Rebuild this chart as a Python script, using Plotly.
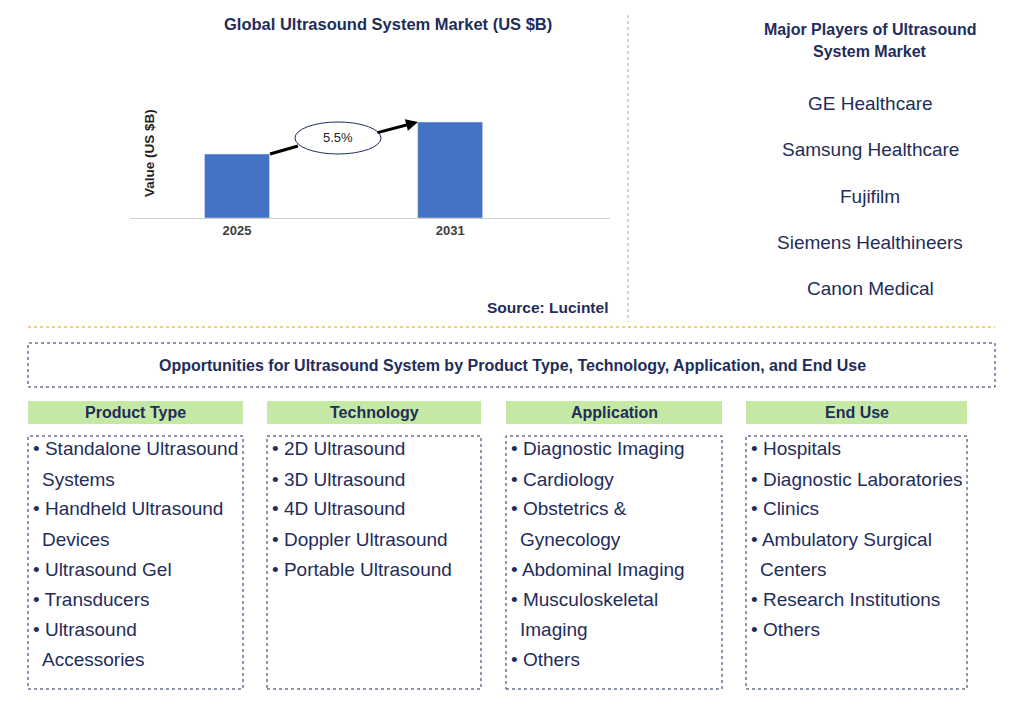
import plotly.graph_objects as go

years = ["2025", "2031"]
values = [2.0, 3.0]
cagr = "5.5%"
players = ["GE Healthcare", "Samsung Healthcare", "Fujifilm", "Siemens Healthineers", "Canon Medical"]
headers = ["Product Type", "Technology", "Application", "End Use"]
items = [
    [["Standalone Ultrasound", "Systems"], ["Handheld Ultrasound", "Devices"], ["Ultrasound Gel"], ["Transducers"], ["Ultrasound", "Accessories"]],
    [["2D Ultrasound"], ["3D Ultrasound"], ["4D Ultrasound"], ["Doppler Ultrasound"], ["Portable Ultrasound"]],
    [["Diagnostic Imaging"], ["Cardiology"], ["Obstetrics &", "Gynecology"], ["Abdominal Imaging"], ["Musculoskeletal", "Imaging"], ["Others"]],
    [["Hospitals"], ["Diagnostic Laboratories"], ["Clinics"], ["Ambulatory Surgical", "Centers"], ["Research Institutions"], ["Others"]],
]

W, H = 1024, 710
OFF = 8
px = lambda x: (x - OFF) / W
py = lambda y: 1 - (y - OFF) / H
NAVY = "#1f2d5a"
FONT = "Liberation Sans, Arial"

fig = go.Figure()
fig.add_trace(go.Bar(x=[0, 1], y=values, width=0.305, marker_color="#4472c4", hoverinfo="skip"))

fig.update_layout(
    width=W, height=H, margin=dict(l=0, r=0, t=0, b=0),
    paper_bgcolor="white", plot_bgcolor="white", showlegend=False,
    font=dict(family=FONT),
    xaxis=dict(domain=[px(130), px(610)], range=[-0.502, 1.75], tickvals=[0, 1],
               ticktext=["<b>%s</b>" % y for y in years],
               showgrid=False, zeroline=False, showline=True, linecolor="#d0d0d0",
               tickfont=dict(size=13, color="#404040", family=FONT), ticks=""),
    yaxis=dict(domain=[py(218), py(90)], range=[0, values[1] * 128 / 96], showticklabels=False,
               showgrid=False, zeroline=False, showline=False),
)

ann = []
shapes = []
def text(x, y, t, size=18, bold=False, color="#1f1f1f", xa="center", angle=0):
    ann.append(dict(x=px(x), y=py(y), xref="paper", yref="paper", text=f"<b>{t}</b>" if bold else t,
                    showarrow=False, xanchor=xa, yanchor="middle", textangle=angle,
                    font=dict(size=size, color=color, family=FONT)))

text(388, 24, "Global Ultrasound System Market (US $B)", 16.5, True, NAVY)
text(150, 153, "Value (US $B)", 13.5, True, "#1f1f1f", angle=-90)
text(547, 307, "Source: Lucintel", 15.5, True, NAVY)
text(870, 30, "Major Players of Ultrasound", 16, True, NAVY)
text(870, 51, "System Market", 16, True, NAVY)
for i, p in enumerate(players):
    text(870, 103 + i * 46.5, p, 19, False, NAVY)

# arrow in two parts around the ellipse
shapes.append(dict(type="line", xref="paper", yref="paper", x0=px(270), y0=py(154), x1=px(298), y1=py(146),
                   line=dict(color="black", width=3)))
ann.append(dict(x=px(418), y=py(122), ax=-42, ay=11, xref="paper", yref="paper", axref="pixel", ayref="pixel",
                showarrow=True, arrowhead=2, arrowsize=0.8, arrowwidth=3, arrowcolor="black", text=""))
shapes.append(dict(type="circle", xref="paper", yref="paper", x0=px(295), x1=px(381), y0=py(154), y1=py(122),
                   fillcolor="white", line=dict(color="#1f2d5a", width=1)))
text(338, 138, cagr, 13, False, "#1f1f1f")

shapes.append(dict(type="line", xref="paper", yref="paper", x0=px(628), x1=px(628), y0=py(15), y1=py(322),
                   line=dict(color="#a6a6a6", width=1, dash="dot")))
shapes.append(dict(type="line", xref="paper", yref="paper", x0=px(28), x1=px(995), y0=py(327), y1=py(327),
                   line=dict(color="#e6c44d", width=1.5, dash="dot")))
shapes.append(dict(type="rect", xref="paper", yref="paper", x0=px(28), x1=px(995), y0=py(387), y1=py(343),
                   line=dict(color="#1f2d5a", width=1, dash="dot")))
text(512, 365, "Opportunities for Ultrasound System by Product Type, Technology, Application, and End Use", 16, True, NAVY)

cols = [(28, 243), (267, 481), (506, 722), (746, 967)]
for (x0, x1), h, its in zip(cols, headers, items):
    shapes.append(dict(type="rect", xref="paper", yref="paper", x0=px(x0), x1=px(x1), y0=py(424), y1=py(401),
                       fillcolor="#c5e8a5", line=dict(width=0)))
    text((x0 + x1) / 2, 412, h, 16, True, NAVY)
    shapes.append(dict(type="rect", xref="paper", yref="paper", x0=px(x0), x1=px(x1), y0=py(689), y1=py(436),
                       line=dict(color="#1f2d5a", width=1, dash="dot")))
    row = 0
    for it in its:
        for j, line in enumerate(it):
            y = 449 + row * 30
            if j == 0:
                text(x0 + 3, y, "• " + line, 19, False, NAVY, xa="left")
            else:
                text(x0 + 12, y, line, 19, False, NAVY, xa="left")
            row += 1

fig.update_layout(annotations=ann, shapes=shapes)
fig.write_html("out.html")
